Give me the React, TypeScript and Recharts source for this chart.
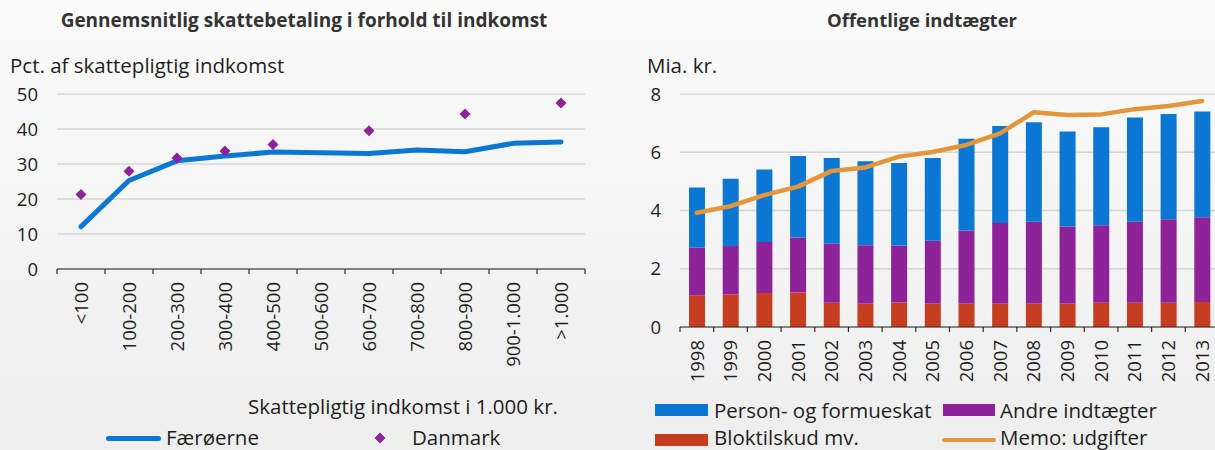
import React from "react";
import {
  ComposedChart,
  Line,
  Bar,
  XAxis,
  YAxis,
  CartesianGrid,
} from "recharts";

const incomeBands = ["<100", "100-200", "200-300", "300-400", "400-500", "500-600", "600-700", "700-800", "800-900", "900-1.000", ">1.000"];
const faroeTax = [12.1, 25.3, 30.9, 32.3, 33.4, 33.2, 33.0, 34.0, 33.5, 35.9, 36.3];
const denmarkTax = [21.3, 27.9, 31.7, 33.7, 35.6, null, 39.5, null, 44.3, null, 47.4];
const pctTicks = [0, 10, 20, 30, 40, 50];

const years = ["1998", "1999", "2000", "2001", "2002", "2003", "2004", "2005", "2006", "2007", "2008", "2009", "2010", "2011", "2012", "2013"];
const bloktilskud = [1.09, 1.12, 1.17, 1.19, 0.83, 0.81, 0.84, 0.81, 0.81, 0.81, 0.81, 0.81, 0.83, 0.83, 0.83, 0.86];
const andreIndtaegter = [1.64, 1.66, 1.75, 1.88, 2.03, 2.0, 1.96, 2.15, 2.5, 2.76, 2.8, 2.64, 2.66, 2.78, 2.87, 2.91];
const personSkat = [2.06, 2.31, 2.49, 2.8, 2.94, 2.88, 2.83, 2.84, 3.15, 3.33, 3.42, 3.26, 3.37, 3.58, 3.61, 3.63];
const udgifter = [3.92, 4.15, 4.53, 4.82, 5.36, 5.48, 5.85, 6.01, 6.25, 6.65, 7.37, 7.28, 7.3, 7.48, 7.59, 7.76];
const miaTicks = [0, 2, 4, 6, 8];

const leftData = incomeBands.map((band, i) => ({ band, faroe: faroeTax[i], denmark: denmarkTax[i] }));
const rightData = years.map((year, i) => ({
  year,
  blok: bloktilskud[i],
  andre: andreIndtaegter[i],
  person: personSkat[i],
  udgifter: udgifter[i],
}));

const FONT = "'Open Sans', 'Noto Sans', sans-serif";
const TEXT = "#1e1e1e";
const BLUE = "#0a78d2";
const PURPLE = "#8e2298";
const RED = "#c63d20";
const ORANGE = "#e3963a";
const GRID = "#d6d6d6";
const AXIS = "#2a2a2a";

// category tick: rotated label plus small marks on the band edges
const EdgeTick = (props: any) => {
  const { x, y, payload, width, visibleTicksCount, index } = props;
  const band = width / visibleTicksCount;
  const left = x - band / 2;
  const last = index === visibleTicksCount - 1;
  return (
    <g>
      <line x1={left} x2={left} y1={y} y2={y + 5} stroke={AXIS} strokeWidth={1.2} />
      {last && <line x1={x + band / 2} x2={x + band / 2} y1={y} y2={y + 5} stroke={AXIS} strokeWidth={1.2} />}
      <g transform={`translate(${x},${y})`}>
        <text
          transform="rotate(-90)"
          x={-13}
          dy="0.36em"
          textAnchor="end"
          fontSize={18.5}
          fontFamily={FONT}
          fill={TEXT}
        >
          {payload.value}
        </text>
      </g>
    </g>
  );
};

const Diamond = (props: any) => {
  const { cx, cy, value, index } = props;
  if (value == null || cy == null) return <g key={`d${index}`} />;
  const r = 5.5;
  return (
    <polygon
      key={`d${index}`}
      points={`${cx},${cy - r} ${cx + r},${cy} ${cx},${cy + r} ${cx - r},${cy}`}
      fill={PURPLE}
    />
  );
};

const abs = (left: number, top: number, extra: React.CSSProperties = {}): React.CSSProperties => ({
  position: "absolute",
  left,
  top,
  whiteSpace: "nowrap",
  fontFamily: FONT,
  fontSize: 20.5,
  color: TEXT,
  lineHeight: 1,
  ...extra,
});

const titleStyle = (center: number, size: number): React.CSSProperties =>
  abs(center, 11, { fontWeight: 700, fontSize: size, color: "#333", transform: "translateX(-50%)" });

const yTick = { fontSize: 18.5, fontFamily: FONT, fill: TEXT };

export default function App() {
  return (
    <div
      style={{
        position: "absolute",
        left: 0,
        top: 0,
        width: 1215,
        height: 450,
        overflow: "hidden",
        background: "linear-gradient(#fbfbfb, #eeeeee)",
      }}
    >
      <div style={titleStyle(304, 19)}>Gennemsnitlig skattebetaling i forhold til indkomst</div>
      <div style={titleStyle(922, 18.5)}>Offentlige indtægter</div>
      <div style={abs(10, 55)}>Pct. af skattepligtig indkomst</div>
      <div style={abs(647, 55)}>Mia. kr.</div>

      <div style={{ position: "absolute", left: 0, top: 0 }}>
        <ComposedChart
          width={600}
          height={450}
          data={leftData}
          margin={{ top: 94, right: 15, bottom: 81, left: 17 }}
        >
          <CartesianGrid vertical={false} stroke={GRID} strokeWidth={1.5} />
          <XAxis
            dataKey="band"
            scale="band"
            height={100}
            axisLine={{ stroke: AXIS, strokeWidth: 1.2 }}
            tickLine={false}
            tickSize={0}
            tickMargin={0}
            interval={0}
            tick={<EdgeTick />}
          />
          <YAxis
            domain={[0, 50]}
            ticks={pctTicks}
            width={40}
            axisLine={false}
            tickLine={false}
            tickSize={0}
            tickMargin={19}
            tick={yTick}
          />
          <Line
            dataKey="faroe"
            stroke={BLUE}
            strokeWidth={5}
            strokeLinecap="round"
            strokeLinejoin="round"
            dot={false}
            isAnimationActive={false}
          />
          <Line
            dataKey="denmark"
            stroke="none"
            strokeWidth={0}
            dot={Diamond}
            activeDot={false}
            isAnimationActive={false}
          />
        </ComposedChart>
      </div>
      <div style={abs(248, 396)}>Skattepligtig indkomst i 1.000 kr.</div>
      <div style={{ position: "absolute", left: 106, top: 436, width: 55, height: 5, borderRadius: 3, background: BLUE }} />
      <div style={abs(166, 427)}>Færøerne</div>
      <svg style={{ position: "absolute", left: 374, top: 432 }} width={12} height={12}>
        <polygon points="6,0.5 11.5,6 6,11.5 0.5,6" fill={PURPLE} />
      </svg>
      <div style={abs(412, 427)}>Danmark</div>

      <div style={{ position: "absolute", left: 620, top: 0 }}>
        <ComposedChart
          width={620}
          height={450}
          data={rightData}
          margin={{ top: 94, right: 21, bottom: 23, left: 20 }}
        >
          <CartesianGrid vertical={false} stroke={GRID} strokeWidth={1.5} />
          <XAxis
            dataKey="year"
            scale="band"
            height={100}
            axisLine={{ stroke: AXIS, strokeWidth: 1.2 }}
            tickLine={false}
            tickSize={0}
            tickMargin={0}
            interval={0}
            tick={<EdgeTick />}
          />
          <YAxis
            domain={[0, 8]}
            ticks={miaTicks}
            width={40}
            axisLine={false}
            tickLine={false}
            tickSize={0}
            tickMargin={19}
            tick={yTick}
          />
          <Bar dataKey="blok" stackId="s" fill={RED} barSize={16} isAnimationActive={false} />
          <Bar dataKey="andre" stackId="s" fill={PURPLE} barSize={16} isAnimationActive={false} />
          <Bar dataKey="person" stackId="s" fill={BLUE} barSize={16} isAnimationActive={false} />
          <Line
            dataKey="udgifter"
            stroke={ORANGE}
            strokeWidth={4.5}
            strokeLinecap="round"
            strokeLinejoin="round"
            dot={false}
            isAnimationActive={false}
          />
        </ComposedChart>
      </div>
      <div style={{ position: "absolute", left: 655, top: 404, width: 53, height: 12, background: BLUE }} />
      <div style={abs(714, 400)}>Person- og formueskat</div>
      <div style={{ position: "absolute", left: 943, top: 404, width: 52, height: 12, background: PURPLE }} />
      <div style={abs(1000, 400)}>Andre indtægter</div>
      <div style={{ position: "absolute", left: 655, top: 434, width: 53, height: 12, background: RED }} />
      <div style={abs(714, 427)}>Bloktilskud mv.</div>
      <div style={{ position: "absolute", left: 942, top: 438, width: 54, height: 4, borderRadius: 2, background: ORANGE }} />
      <div style={abs(1000, 427)}>Memo: udgifter</div>
    </div>
  );
}
